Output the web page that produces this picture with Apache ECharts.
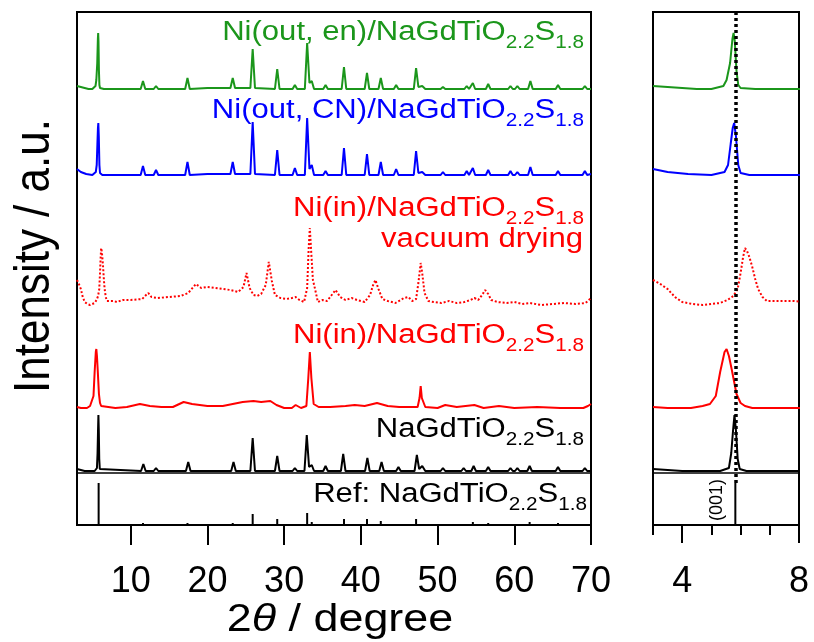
<!DOCTYPE html>
<html>
<head>
<meta charset="utf-8">
<script src="https://cdn.jsdelivr.net/npm/echarts@6/dist/echarts.min.js"></script>
<style>
  html, body { margin: 0; padding: 0; background: #fff; }
  #chart { width: 814px; height: 642px; }
</style>
</head>
<body>
<div id="chart"></div>
<script>
// XRD patterns, each point is [2θ (degree), intensity above that pattern's own baseline]
const patternNiOutEn = [
  [3.0, 3], [3.5, 2], [4.0, 1], [4.5, 0], [5.0, 0], [5.41, 3], [5.52, 9], [5.64, 26], [5.72, 50], [5.76, 56],
  [5.80, 48], [5.86, 18], [5.92, 4], [6.0, 1], [6.5, 0], [8, 0], [11.3, 0], [11.6, 8], [11.9, 0], [13.0, 0],
  [13.3, 3], [13.6, 0], [17.1, 0], [17.4, 11], [17.7, 0], [20, 1], [23.0, 1], [23.3, 11], [23.6, 1], [25.6, 1],
  [25.9, 40], [26.2, 1], [28.8, 0], [29.1, 20], [29.4, 0], [31.1, 0], [31.4, 4], [31.7, 0], [32.7, 0], [33.0, 46],
  [33.3, 6], [33.6, 8], [33.9, 0], [35.1, 0], [35.4, 4], [35.7, 0], [37.5, 0], [37.8, 22], [38.1, 0], [40.5, 0],
  [40.8, 16], [41.1, 0], [42.3, 0], [42.6, 11], [42.9, 0], [44.3, 0], [44.6, 4], [44.9, 0], [46.9, 0], [47.2, 21],
  [47.5, 2], [48.0, 3], [48.4, 0], [50.4, 0], [50.7, 2], [51.0, 0], [53.5, 0], [53.8, 3], [54.1, 0], [54.3, 0],
  [54.6, 6], [54.9, 0], [56.3, 0], [56.6, 5], [56.9, 0], [59.2, 0], [59.5, 3], [59.8, 0], [60.1, 0], [60.4, 3],
  [60.7, 0], [61.8, 0], [62.1, 8], [62.4, 0], [65.4, 0], [65.7, 4], [66.0, 0], [68.9, 0], [69.2, 3], [69.5, 0], [70, 0]
];
const patternNiOutCN = [
  [3.0, 6], [3.5, 3], [4.2, 1], [5.0, 0], [5.45, 3], [5.57, 10], [5.66, 31], [5.73, 47], [5.78, 52], [5.84, 39],
  [5.92, 10], [6.0, 2], [6.3, 0], [8, 0], [11.3, 0], [11.6, 9], [11.9, 0], [13.0, 0], [13.3, 5], [13.6, 0],
  [17.1, 0], [17.4, 13], [17.7, 0], [20, 1], [23.0, 1], [23.3, 13], [23.6, 1], [25.6, 1], [25.9, 53], [26.2, 1],
  [28.8, 0], [29.1, 25], [29.4, 0], [31.1, 0], [31.4, 7], [31.7, 0], [32.7, 0], [33.0, 57], [33.3, 6], [33.6, 10],
  [33.9, 0], [35.1, 0], [35.4, 4], [35.7, 0], [37.5, 0], [37.8, 27], [38.1, 0], [40.5, 0], [40.8, 21], [41.1, 0],
  [42.3, 0], [42.6, 13], [42.9, 0], [44.3, 0], [44.6, 6], [44.9, 0], [46.9, 0], [47.2, 24], [47.5, 2], [48.0, 3],
  [48.4, 0], [50.4, 0], [50.7, 3], [51.0, 0], [53.5, 0], [53.8, 4], [54.1, 0], [54.3, 0], [54.6, 7], [54.9, 0],
  [56.3, 0], [56.6, 5], [56.9, 0], [59.2, 0], [59.5, 4], [59.8, 0], [60.1, 0], [60.4, 3], [60.7, 0], [61.8, 0],
  [62.1, 8], [62.4, 0], [65.4, 0], [65.7, 4], [66.0, 0], [68.9, 0], [69.2, 4], [69.5, 0], [70, 1]
];
const patternNiInVacuum = [
  [3.0, 23], [3.25, 19], [3.5, 14], [3.75, 6], [4.0, 1], [4.35, -1], [4.7, -2], [5.0, -1], [5.3, 0], [5.55, 3],
  [5.75, 7], [5.9, 14], [6.0, 30], [6.08, 45], [6.15, 55], [6.22, 52], [6.3, 46], [6.4, 36], [6.5, 24], [6.6, 14],
  [6.75, 6], [6.9, 2], [7.3, 2], [7.8, 2], [8.2, 1], [9, 3], [10, 3], [11.5, 4], [12.0, 8], [12.3, 10],
  [12.7, 6], [13.5, 5], [15, 6], [16.5, 7], [17.5, 10], [18.5, 19], [19.2, 15], [20, 16], [21, 15], [22, 14],
  [23, 13], [24, 11], [24.7, 16], [25.1, 30], [25.5, 15], [26.0, 8], [26.5, 7], [27.0, 9], [27.6, 18], [28.0, 41],
  [28.4, 22], [28.8, 8], [29.5, 5], [30.3, 4], [31.0, 5], [31.5, 6], [32.0, 3], [32.6, 1], [33.0, 15], [33.2, 55],
  [33.35, 75], [33.5, 55], [33.75, 23], [34.0, 15], [34.4, 1], [35.0, 3], [35.6, 2], [36.2, 8], [36.7, 13], [37.3, 6],
  [38.0, 3], [38.8, 5], [39.5, 3], [40.5, 1], [41.2, 8], [41.6, 18], [41.9, 23], [42.3, 14], [42.8, 4], [43.5, 2],
  [44.5, 0], [45.2, 3], [45.6, 5], [46.2, 6], [46.7, 2], [47.2, 4], [47.5, 20], [47.8, 40], [48.0, 30], [48.3, 10],
  [48.8, 2], [49.5, 1], [50.5, 0], [51.5, 2], [52.5, 0], [53.5, 1], [54.3, 3], [54.8, 5], [55.3, 3], [55.8, 8],
  [56.2, 13], [56.6, 9], [57.0, 3], [57.8, 1], [59, 0], [60, 1], [61, -1], [62, 0], [63.5, -2], [65, -1],
  [66.5, 0], [68, -1], [69.3, 0], [70, 5]
];
const patternNiIn = [
  [3.0, 1], [3.5, 0], [4.3, 0], [4.7, 2], [4.95, 4], [5.15, 12], [5.3, 36], [5.45, 56], [5.52, 59], [5.6, 52],
  [5.7, 38], [5.86, 14], [6.0, 5], [6.15, 2], [6.4, 0], [8, 0], [9.5, 1], [11.2, 4], [12.5, 2], [14, 1],
  [15.5, 1], [16.9, 6], [18, 4], [20, 2], [22, 2], [24.6, 6], [26, 7], [27, 6], [28.2, 7], [29, 3],
  [30, 0], [31.0, 0], [31.5, 3], [32.2, 0], [32.9, 2], [33.15, 30], [33.35, 56], [33.55, 30], [33.85, 4], [34.5, 1],
  [36, 1], [38, 2], [39.2, 3], [40.5, 2], [42.1, 5], [43.5, 2], [45, 1], [47.4, 1], [47.65, 10], [47.8, 22],
  [47.95, 10], [48.4, 1], [50, 0], [51, 3], [52.5, 1], [54.8, 3], [56, 0], [58, 2], [60, 0], [63, 1],
  [66, 0], [69, 0], [69.6, 2], [70, 4]
];
const patternHost = [
  [3.0, 2], [4.0, 0], [5.3, 0], [5.6, 3], [5.68, 18], [5.74, 40], [5.79, 56], [5.84, 41], [5.90, 12], [5.97, 2],
  [6.2, 0], [11.35, 0], [11.65, 7], [11.95, 0], [13.0, 0], [13.3, 3], [13.6, 0], [17.2, 0], [17.5, 9], [17.8, 0],
  [23.1, 0], [23.4, 9], [23.7, 0], [25.6, 0], [25.9, 33], [26.2, 0], [28.8, 0], [29.1, 15], [29.4, 0], [31.1, 0],
  [31.4, 3], [31.7, 0], [32.65, 0], [32.95, 36], [33.25, 4], [33.6, 6], [33.9, 0], [35.1, 0], [35.4, 5], [35.7, 0],
  [37.4, 0], [37.7, 17], [38.0, 0], [40.55, 0], [40.85, 13], [41.15, 0], [42.4, 0], [42.7, 9], [43.0, 0], [44.6, 0],
  [44.9, 4], [45.2, 0], [47.0, 0], [47.3, 16], [47.6, 2], [48.0, 5], [48.4, 0], [50.4, 0], [50.7, 3], [51.0, 0],
  [53.1, 0], [53.4, 3], [53.7, 0], [54.4, 0], [54.7, 5], [55.0, 0], [56.3, 0], [56.6, 4], [56.9, 0], [59.2, 0],
  [59.5, 3], [59.8, 0], [60.1, 0], [60.4, 3], [60.7, 0], [61.7, 0], [62.0, 5], [62.3, 0], [65.4, 0], [65.7, 4],
  [66.0, 0], [68.9, 0], [69.2, 3], [69.5, 0], [70, 0]
];
// Reference stick pattern: [2θ, relative intensity]
const referenceSticks = [
  [5.82, 42], [11.6, 2], [13.3, 1], [17.4, 2], [23.3, 2], [25.9, 11], [29.1, 6], [31.4, 1], [33.0, 12], [33.6, 3],
  [35.4, 1], [37.8, 6], [40.8, 6], [42.6, 4], [44.6, 1], [47.2, 6], [54.6, 3], [56.6, 2], [62.0, 3], [65.7, 2], [69.2, 1]
];

// Vertical stacking offsets of the patterns
const offsetNiOutEn = 436;
const offsetNiOutCN = 350;
const offsetNiInVacuum = 222;
const offsetNiIn = 117;
const offsetHost = 54;
const dividerLevel = 52;
const stackTop = 513;

// Axis ticks
const wideTicks = [10, 20, 30, 40, 50, 60, 70];
const zoomMajorTicks = [4, 8];

// Labels
const labelNiOutEn = ['Ni(out, en)/NaGdTiO', '2.2', 'S', '1.8'];
const labelNiOutCN = ['Ni(out, CN)/NaGdTiO', '2.2', 'S', '1.8'];
const labelNiIn = ['Ni(in)/NaGdTiO', '2.2', 'S', '1.8'];
const labelVacuum = 'vacuum drying';
const labelHost = ['NaGdTiO', '2.2', 'S', '1.8'];
const labelRef = ['Ref: NaGdTiO', '2.2', 'S', '1.8'];
const labelPeak = '(001)';
const titleX = ['2', 'θ', ' / degree'];
const titleY = 'Intensity / a.u.';

const FONT = '"Liberation Sans", Arial, Helvetica, sans-serif';
const GREEN = '#1b961b';
const BLUE = '#0000ff';
const RED = '#ff0000';
const BLACK = '#000000';
const WIDE = 1.15;   // horizontal stretch of the lettering

const lift = (pts, off) => pts.map(p => [p[0], p[1] + off]);

function formulaText(parts) {
  return '{m|' + parts[0] + '}{s|' + parts[1] + '}{m|' + parts[2] + '}{s|' + parts[3] + '}';
}
function formulaRich(color) {
  return {
    m: { fontSize: 27, fontFamily: FONT, fill: color, verticalAlign: 'middle' },
    s: { fontSize: 18, fontFamily: FONT, fill: color, verticalAlign: 'middle', padding: [21, 0, 0, 0] }
  };
}
function formulaLabel(parts, color, x, y) {
  return {
    type: 'text', x: x, y: y, scaleX: WIDE, silent: true, z: 100,
    style: {
      text: formulaText(parts), rich: formulaRich(color), fill: color,
      font: '27px ' + FONT,
      align: 'right', verticalAlign: 'middle', textAlign: 'right', textVerticalAlign: 'middle'
    }
  };
}

const chart = echarts.init(document.getElementById('chart'), null, { renderer: 'canvas' });

const grids = [
  { left: 77, top: 12, width: 514, height: 513, show: true, borderColor: BLACK, borderWidth: 2, backgroundColor: 'transparent' },
  { left: 653, top: 12, width: 146, height: 513, show: true, borderColor: BLACK, borderWidth: 2, backgroundColor: 'transparent' }
];

const tickLabelStyle = { fontSize: 36, fontFamily: FONT, color: BLACK, margin: 39 };

const xAxes = [
  {
    type: 'value', gridIndex: 0, min: 3, max: 70, position: 'bottom',
    axisLine: { show: false },
    axisTick: { show: true, customValues: wideTicks, length: 20, lineStyle: { color: BLACK, width: 2 } },
    axisLabel: Object.assign({ customValues: wideTicks }, tickLabelStyle),
    splitLine: { show: false }
  },
  {
    type: 'value', gridIndex: 1, min: 3, max: 8, interval: 1, position: 'bottom',
    axisLine: { show: false },
    axisTick: { show: true, length: 10, lineStyle: { color: BLACK, width: 2 } },
    axisLabel: Object.assign({ customValues: zoomMajorTicks }, tickLabelStyle),
    splitLine: { show: false }
  },
  {
    type: 'value', gridIndex: 1, min: 3, max: 8, position: 'bottom',
    axisLine: { show: false },
    axisTick: { show: true, customValues: zoomMajorTicks, length: 18, lineStyle: { color: BLACK, width: 2 } },
    axisLabel: { show: false },
    splitLine: { show: false }
  }
];

const yAxes = [0, 1].map(i => ({
  type: 'value', gridIndex: i, min: 0, max: stackTop, show: false
}));

const patterns = [
  { data: patternNiOutEn, off: offsetNiOutEn, color: GREEN, dash: 'solid' },
  { data: patternNiOutCN, off: offsetNiOutCN, color: BLUE, dash: 'solid' },
  { data: patternNiInVacuum, off: offsetNiInVacuum, color: RED, dash: [2, 2] },
  { data: patternNiIn, off: offsetNiIn, color: RED, dash: 'solid' },
  { data: patternHost, off: offsetHost, color: BLACK, dash: 'solid' }
];

const series = [];
[0, 1].forEach(g => {
  patterns.forEach((p, k) => {
    const s = {
      type: 'line', xAxisIndex: g, yAxisIndex: g, data: lift(p.data, p.off),
      showSymbol: false, symbol: 'none', clip: true, silent: true, animation: false,
      lineStyle: { color: p.color, width: 2, type: p.dash }
    };
    if (k === patterns.length - 1) {
      s.markLine = {
        silent: true, symbol: 'none', animation: false, label: { show: false },
        lineStyle: { color: BLACK, width: 1.5, type: 'solid' },
        data: [{ yAxis: dividerLevel }]
      };
    }
    series.push(s);
  });
  const sticks = {
    type: 'bar', xAxisIndex: g, yAxisIndex: g, data: referenceSticks, barWidth: 2,
    clip: true, silent: true, animation: false, itemStyle: { color: BLACK }
  };
  if (g === 1) {
    const main = referenceSticks[0];
    sticks.markLine = {
      silent: true, symbol: 'none', animation: false, label: { show: false },
      lineStyle: { color: BLACK, width: 3.5, type: [3, 3] },
      data: [[{ coord: [main[0], main[1]] }, { coord: [main[0], stackTop] }]]
    };
  }
  series.push(sticks);
});

const graphic = [
  formulaLabel(labelNiOutEn, GREEN, 584, 33),
  formulaLabel(labelNiOutCN, BLUE, 584, 111),
  formulaLabel(labelNiIn, RED, 584, 209),
  {
    type: 'text', x: 583, y: 240, scaleX: WIDE, silent: true, z: 100,
    style: { text: labelVacuum, fill: RED, font: '27px ' + FONT, align: 'right', verticalAlign: 'middle', textAlign: 'right', textVerticalAlign: 'middle' }
  },
  formulaLabel(labelNiIn, RED, 584, 336),
  formulaLabel(labelHost, BLACK, 584, 430),
  formulaLabel(labelRef, BLACK, 587, 495),
  {
    type: 'text', x: 717, y: 500, rotation: Math.PI / 2, silent: true, z: 100,
    style: { text: labelPeak, fill: BLACK, font: '18px ' + FONT, align: 'center', verticalAlign: 'middle', textAlign: 'center', textVerticalAlign: 'middle' }
  },
  {
    // x-axis title
    type: 'text', x: 340, y: 620, scaleX: WIDE, silent: true, z: 100,
    style: {
      text: '{a|' + titleX[0] + '}{b|' + titleX[1] + '}{a|' + titleX[2] + '}',
      font: '39px ' + FONT, fill: BLACK,
      rich: {
        a: { fontSize: 39, fontFamily: FONT, fill: BLACK },
        b: { fontSize: 39, fontFamily: FONT, fill: BLACK, fontStyle: 'italic' }
      },
      align: 'center', verticalAlign: 'middle', textAlign: 'center', textVerticalAlign: 'middle'
    }
  },
  {
    // y-axis title
    type: 'text', x: 35, y: 256, rotation: Math.PI / 2, scaleY: WIDE, silent: true, z: 100,
    style: { text: titleY, fill: BLACK, font: '44px ' + FONT, align: 'center', verticalAlign: 'middle', textAlign: 'center', textVerticalAlign: 'middle' }
  }
];

chart.setOption({
  animation: false,
  backgroundColor: '#ffffff',
  grid: grids,
  xAxis: xAxes,
  yAxis: yAxes,
  series: series,
  graphic: graphic
});
</script>
</body>
</html>
